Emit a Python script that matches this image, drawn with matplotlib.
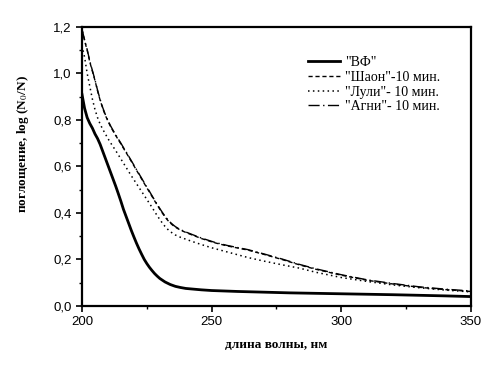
import matplotlib
matplotlib.use("Agg")
import matplotlib.pyplot as plt
from matplotlib.ticker import MultipleLocator, FuncFormatter

# --- data ---
wl_vf = [200, 201, 202, 203, 204, 205, 206, 207, 208, 209, 210, 211, 212, 213, 214, 215, 216,
         217, 218, 219, 220, 221, 222, 223, 224, 225, 226, 227, 228, 229, 230, 232, 234, 236,
         238, 240, 243, 246, 250, 255, 260, 270, 280, 290, 300, 320, 340, 350]
vf = [0.91, 0.85, 0.81, 0.785, 0.765, 0.74, 0.72, 0.695, 0.665, 0.635, 0.605, 0.575, 0.545,
      0.515, 0.483, 0.45, 0.415, 0.385, 0.355, 0.325, 0.297, 0.27, 0.245, 0.222, 0.2, 0.182,
      0.166, 0.152, 0.139, 0.128, 0.118, 0.103, 0.092, 0.084, 0.079, 0.075, 0.072, 0.069,
      0.066, 0.064, 0.062, 0.059, 0.056, 0.054, 0.052, 0.048, 0.043, 0.040]

wl_shaon = [200, 201, 202, 203, 204, 205, 206, 207, 208, 209, 210, 211, 212, 213, 214, 215, 216,
            217, 218, 219, 220, 221, 222, 223, 224, 225, 226, 227, 228, 229, 230, 231, 232, 233,
            234, 235, 236, 237, 238, 240, 242.5, 246, 251, 256, 260, 264, 270, 277, 284, 290,
            300, 310, 320, 330, 340, 350]
shaon = [1.19, 1.14, 1.10, 1.05, 1.01, 0.97, 0.925, 0.885, 0.85, 0.82, 0.795, 0.772, 0.752,
         0.733, 0.715, 0.697, 0.678, 0.66, 0.641, 0.622, 0.603, 0.584, 0.565, 0.546, 0.527,
         0.508, 0.49, 0.471, 0.452, 0.434, 0.416, 0.399, 0.383, 0.369, 0.357, 0.347, 0.339,
         0.332, 0.326, 0.316, 0.305, 0.29, 0.272, 0.258, 0.249, 0.24, 0.222, 0.20, 0.176,
         0.158, 0.132, 0.11, 0.094, 0.08, 0.07, 0.062]

wl_luli = [200, 201, 202, 203, 204, 205, 206, 207, 208, 209, 210, 211, 212, 213, 214, 215, 216,
           217, 218, 219, 220, 221, 222, 223, 224, 225, 226, 227, 228, 229, 230, 231, 232, 233,
           234, 235, 236, 238, 240, 242.5, 246, 250, 256, 264, 270, 277, 284, 290, 300, 310,
           320, 330, 340, 350]
luli = [1.12, 1.07, 1.0, 0.945, 0.89, 0.845, 0.81, 0.782, 0.76, 0.74, 0.72, 0.702, 0.685,
        0.668, 0.65, 0.632, 0.614, 0.596, 0.578, 0.56, 0.543, 0.526, 0.509, 0.492, 0.475,
        0.458, 0.441, 0.424, 0.406, 0.388, 0.372, 0.356, 0.342, 0.33, 0.32, 0.312, 0.305,
        0.295, 0.287, 0.277, 0.264, 0.25, 0.232, 0.208, 0.193, 0.177, 0.162, 0.145, 0.122,
        0.105, 0.09, 0.078, 0.068, 0.06]

wl_agni = [200, 201, 202, 203, 204, 205, 206, 207, 208, 209, 210, 211, 212, 213, 214, 215, 216,
           217, 218, 219, 220, 221, 222, 223, 224, 225, 226, 227, 228, 229, 230, 231, 232, 233,
           234, 235, 236, 237, 238, 240, 242.5, 246, 251, 256, 260, 264, 270, 277, 284, 290,
           300, 310, 320, 330, 340, 350]
agni = [1.19, 1.145, 1.103, 1.054, 1.013, 0.973, 0.928, 0.888, 0.853, 0.823, 0.798, 0.775,
        0.755, 0.736, 0.718, 0.7, 0.681, 0.663, 0.644, 0.625, 0.606, 0.587, 0.568, 0.549,
        0.53, 0.511, 0.493, 0.474, 0.455, 0.437, 0.419, 0.402, 0.386, 0.372, 0.36, 0.35,
        0.341, 0.334, 0.328, 0.318, 0.307, 0.292, 0.274, 0.26, 0.251, 0.242, 0.224, 0.202,
        0.178, 0.16, 0.134, 0.112, 0.096, 0.082, 0.072, 0.064]

labels = ['"ВФ"', '"Шаон"-10 мин.', '"Лули"- 10 мин.', '"Агни"- 10 мин.']
xticks = [200, 250, 300, 350]
yticks = [0.0, 0.2, 0.4, 0.6, 0.8, 1.0, 1.2]

plt.rcParams['mathtext.fontset'] = 'stix'

fig = plt.figure(figsize=(5.0, 3.65), dpi=100)
ax = fig.add_axes([0.164, 0.162, 0.778, 0.764])

ax.plot(wl_vf, vf, color='black', lw=2.0, label=labels[0])
ax.plot(wl_shaon, shaon, color='black', lw=1.0, dashes=(3, 2), label=labels[1])
ax.plot(wl_luli, luli, color='black', lw=1.1, dashes=(1, 2.2), label=labels[2])
ax.plot(wl_agni, agni, color='black', lw=1.0, dashes=(8, 2.5, 1, 2.5), label=labels[3])

ax.set_xlim(200, 350)
ax.set_ylim(0, 1.2)
ax.set_xticks(xticks)
ax.set_yticks(yticks)
ax.xaxis.set_minor_locator(MultipleLocator(25))
ax.yaxis.set_minor_locator(MultipleLocator(0.1))
ax.yaxis.set_major_formatter(FuncFormatter(lambda v, p: f"{v:.1f}".replace('.', ',')))
ax.tick_params(which='major', direction='out', length=4, width=1.2, labelsize=9.5,
               top=False, right=False)
ax.tick_params(which='minor', direction='out', length=2.5, width=1.0, top=False, right=False)
for lab in ax.get_xticklabels() + ax.get_yticklabels():
    lab.set_fontfamily('Liberation Sans')
for s in ax.spines.values():
    s.set_linewidth(1.6)

ax.set_xlabel('длина волны, нм', fontfamily='Liberation Serif', fontsize=9.5,
              fontweight='bold', labelpad=8)
ax.set_ylabel('поглощение, log (N$_0$/N)', fontfamily='Liberation Serif', fontsize=9.5,
              fontweight='bold')
ax.yaxis.set_label_coords(-0.131, 0.58)

leg = ax.legend(loc='upper left', bbox_to_anchor=(0.581, 0.895), frameon=False,
                prop={'family': 'Liberation Serif', 'size': 10},
                handlelength=2.3, handletextpad=0.35, labelspacing=0.12, borderpad=0,
                borderaxespad=0)

fig.savefig('out.png', dpi=100)
